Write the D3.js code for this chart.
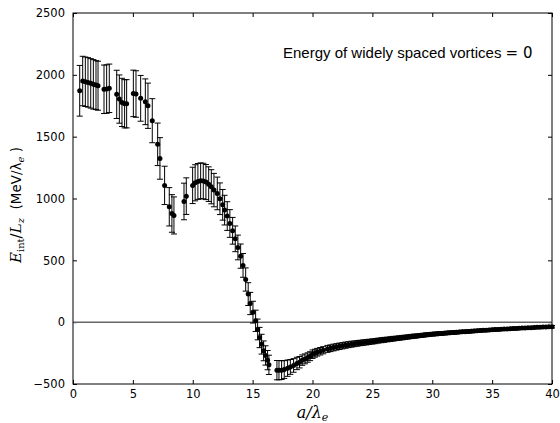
<!DOCTYPE html>
<html>
  <head>
    <script src="https://cdnjs.cloudflare.com/ajax/libs/d3/7.8.5/d3.min.js"></script>
    <style>
      body { margin: 0; background: #fff; }
      svg { display: block; }
      .tick text { font-family: "DejaVu Sans", sans-serif; font-size: 11.5px; fill: #000; }
      .tick line { stroke: #000; }
      path.domain { display: none; }
      line.errbar { stroke: #000; stroke-width: 1; }
      circle.pt { fill: #000; }
    </style>
  </head>
  <body>
    <svg width="560" height="423"></svg>
    <script>
      // separation a/lambda_e, energy per length and its error
      var nearX = [0.56, 0.81, 1.03, 1.25, 1.48, 1.70, 1.92, 2.09, 2.59, 2.81, 3.03,
        3.65, 3.87, 4.09, 4.31, 4.48, 5.04, 5.26, 5.65, 6.04, 6.26, 6.62, 7.07, 7.26,
        7.65, 8.04, 8.26, 8.43, 9.27, 9.46, 9.99, 10.2, 10.43, 10.66, 10.88, 11.1,
        11.33, 11.55, 11.77, 12.05, 12.27, 12.5, 12.66, 12.88, 13.1, 13.33, 13.55,
        13.77, 14.0, 14.2, 14.42, 14.63, 14.8, 15.03, 15.25, 15.42, 15.58, 15.75,
        15.92, 16.08, 16.25, 16.36, 17.03, 17.2, 17.42, 17.64, 17.92, 18.15, 18.42,
        18.7, 18.92, 19.14, 19.37, 19.6, 19.8, 20.0, 20.2, 20.4, 20.65, 20.9];
      var nearE = [1871, 1950, 1944, 1939, 1931, 1923, 1917, 1912, 1883, 1885, 1891,
        1842, 1804, 1777, 1766, 1766, 1850, 1845, 1810, 1782, 1750, 1629, 1438, 1324,
        1106, 933, 879, 863, 976, 1019, 1106, 1127, 1138, 1143, 1141, 1133,
        1116, 1095, 1068, 1041, 998, 949, 906, 858, 798, 739, 674,
        604, 534, 459, 345, 227, 151, 81, 11, -59, -124, -178,
        -232, -269, -307, -345, -388, -388, -388, -383, -372, -362, -350,
        -334, -324, -307, -297, -286, -275, -259, -251, -243, -235, -227];
      var nearErr = [205, 200, 200, 200, 200, 200, 198, 198, 196, 196, 196,
        195, 195, 195, 195, 195, 188, 188, 185, 185, 183, 178, 172, 168,
        155, 155, 152, 150, 148, 148, 147, 146, 145, 145, 144, 142,
        140, 138, 135, 132, 128, 124, 120, 116, 112, 108, 104,
        100, 98, 96, 94, 92, 90, 88, 86, 84, 82, 80,
        80, 78, 78, 78, 78, 78, 76, 72, 66, 60, 55,
        50, 46, 42, 40, 38, 36, 34, 32, 31, 30, 29];

      var tailX = [21.25, 21.5, 21.75, 22, 22.25, 22.5, 22.75, 23, 23.25, 23.5, 23.75, 24,
        24.25, 24.5, 24.75, 25, 25.25, 25.5, 25.75, 26, 26.25, 26.5, 26.75, 27,
        27.25, 27.5, 27.75, 28, 28.25, 28.5, 28.75, 29, 29.25, 29.5, 29.75, 30,
        30.25, 30.5, 30.75, 31, 31.25, 31.5, 31.75, 32, 32.25, 32.5, 32.75, 33,
        33.25, 33.5, 33.75, 34, 34.25, 34.5, 34.75, 35, 35.25, 35.5, 35.75, 36,
        36.25, 36.5, 36.75, 37, 37.25, 37.5, 37.75, 38, 38.25, 38.5, 38.75, 39,
        39.25, 39.5, 39.75, 40];
      var tailE = [-216, -211, -205, -200, -195, -191, -186, -182, -178, -175, -171, -168,
        -165, -162, -159, -156, -153, -149, -146, -143, -140, -137, -134, -131,
        -128, -125, -122, -119, -116, -113, -111, -108, -105, -102, -100, -97,
        -95, -93, -91, -89, -87, -85, -84, -82, -80, -78, -77, -75,
        -73, -71, -70, -68, -66, -65, -63, -62, -60, -59, -57, -56,
        -55, -53, -52, -51, -50, -48, -47, -46, -45, -43, -42, -41,
        -40, -39, -38, -37];
      var tailErr = [28, 27, 27, 26, 26, 25, 25, 24, 24, 23, 23, 22,
        22, 22, 21, 21, 21, 20, 20, 20, 19, 19, 19, 18,
        18, 18, 17, 17, 17, 17, 16, 16, 16, 16, 15, 15,
        15, 15, 15, 14, 14, 14, 14, 14, 13, 13, 13, 13,
        13, 13, 12, 12, 12, 12, 12, 12, 12, 11, 11, 11,
        11, 11, 11, 11, 10, 10, 10, 10, 10, 10, 10, 10,
        10, 10, 10, 10];

      var xTicks = [0, 5, 10, 15, 20, 25, 30, 35, 40];
      var yTicks = [-500, 0, 500, 1000, 1500, 2000, 2500];

      var allX = nearX.concat(tailX), allE = nearE.concat(tailE), allErr = nearErr.concat(tailErr);
      var data = allX.map(function (a, i) {
        return { a: a, e: allE[i], err: allErr[i] };
      });

      var plotL = 73, plotR = 552, plotT = 13, plotB = 384;
      var svg = d3.select("svg");
      var x = d3.scaleLinear().domain([0, 40]).range([plotL, plotR]);
      var y = d3.scaleLinear().domain([-500, 2500]).range([plotB, plotT]);

      var tickFmt = function (d) { return d < 0 ? "\u2212" + Math.abs(d) : d; };

      // axes, ticks pointing inward
      svg.append("g").attr("transform", "translate(0," + plotB + ")")
        .call(d3.axisBottom(x).tickValues(xTicks).tickSizeInner(-4).tickSizeOuter(0).tickPadding(6));
      svg.append("g").attr("transform", "translate(0," + plotT + ")")
        .call(d3.axisTop(x).tickValues(xTicks).tickSizeInner(-4).tickSizeOuter(0).tickFormat(""));
      svg.append("g").attr("transform", "translate(" + plotL + ",0)")
        .call(d3.axisLeft(y).tickValues(yTicks).tickSizeInner(-4).tickSizeOuter(0).tickPadding(8).tickFormat(tickFmt));
      svg.append("g").attr("transform", "translate(" + plotR + ",0)")
        .call(d3.axisRight(y).tickValues(yTicks).tickSizeInner(-4).tickSizeOuter(0).tickFormat(""));

      // zero line
      svg.append("line")
        .attr("x1", x(0)).attr("x2", x(40)).attr("y1", y(0)).attr("y2", y(0))
        .attr("stroke", "#666").attr("stroke-width", 1.5);

      // error bars
      var eb = svg.append("g").selectAll("g").data(data).enter().append("g");
      eb.append("line").attr("class", "errbar")
        .attr("x1", d => x(d.a)).attr("x2", d => x(d.a))
        .attr("y1", d => y(d.e + d.err)).attr("y2", d => y(d.e - d.err));
      eb.append("line").attr("class", "errbar")
        .attr("x1", d => x(d.a) - 3).attr("x2", d => x(d.a) + 3)
        .attr("y1", d => y(d.e + d.err)).attr("y2", d => y(d.e + d.err));
      eb.append("line").attr("class", "errbar")
        .attr("x1", d => x(d.a) - 3).attr("x2", d => x(d.a) + 3)
        .attr("y1", d => y(d.e - d.err)).attr("y2", d => y(d.e - d.err));

      svg.append("g").selectAll("circle").data(data).enter().append("circle")
        .attr("class", "pt").attr("cx", d => x(d.a)).attr("cy", d => y(d.e)).attr("r", 2.5);

      // frame
      svg.append("rect").attr("x", plotL).attr("y", plotT)
        .attr("width", plotR - plotL).attr("height", plotB - plotT)
        .attr("fill", "none").attr("stroke", "#000").attr("stroke-width", 1);

      // x label
      var xl = svg.append("text").attr("x", (plotL + plotR) / 2).attr("y", 418)
        .attr("text-anchor", "middle").attr("font-size", 16)
        .attr("font-family", "'DejaVu Serif', serif").attr("font-style", "italic");
      xl.append("tspan").text("a/\u03bb");
      xl.append("tspan").attr("font-size", 11).attr("dy", 3).text("e");

      // y label
      var yl = svg.append("text").attr("transform", "translate(21,205) rotate(-90)")
        .attr("text-anchor", "middle").attr("font-size", 15)
        .attr("font-family", "'DejaVu Serif', serif");
      yl.append("tspan").attr("font-style", "italic").text("E");
      yl.append("tspan").attr("font-size", 10).attr("dy", 3).text("int");
      yl.append("tspan").attr("dy", -3).text("/");
      yl.append("tspan").attr("font-style", "italic").text("L");
      yl.append("tspan").attr("font-size", 10).attr("font-style", "italic").attr("dy", 3).text("z");
      yl.append("tspan").attr("dy", -3).attr("font-family", "'DejaVu Sans', sans-serif").attr("font-size", 13.5).text("\u00a0\u00a0(MeV/\u03bb");
      yl.append("tspan").attr("font-size", 10).attr("font-style", "italic").attr("dy", 3).text("e");
      yl.append("tspan").attr("dy", -3).attr("font-family", "'DejaVu Sans', sans-serif").attr("font-size", 13.5).text("\u00a0)");

      // annotation
      var note = svg.append("text").attr("x", 283).attr("y", 58)
        .attr("font-family", "'Liberation Sans', Arial, sans-serif").attr("font-size", 15);
      note.append("tspan").text("Energy of widely spaced vortices ");
      note.append("tspan").attr("font-family", "'DejaVu Sans', sans-serif").text("= 0");
    </script>
  </body>
</html>
